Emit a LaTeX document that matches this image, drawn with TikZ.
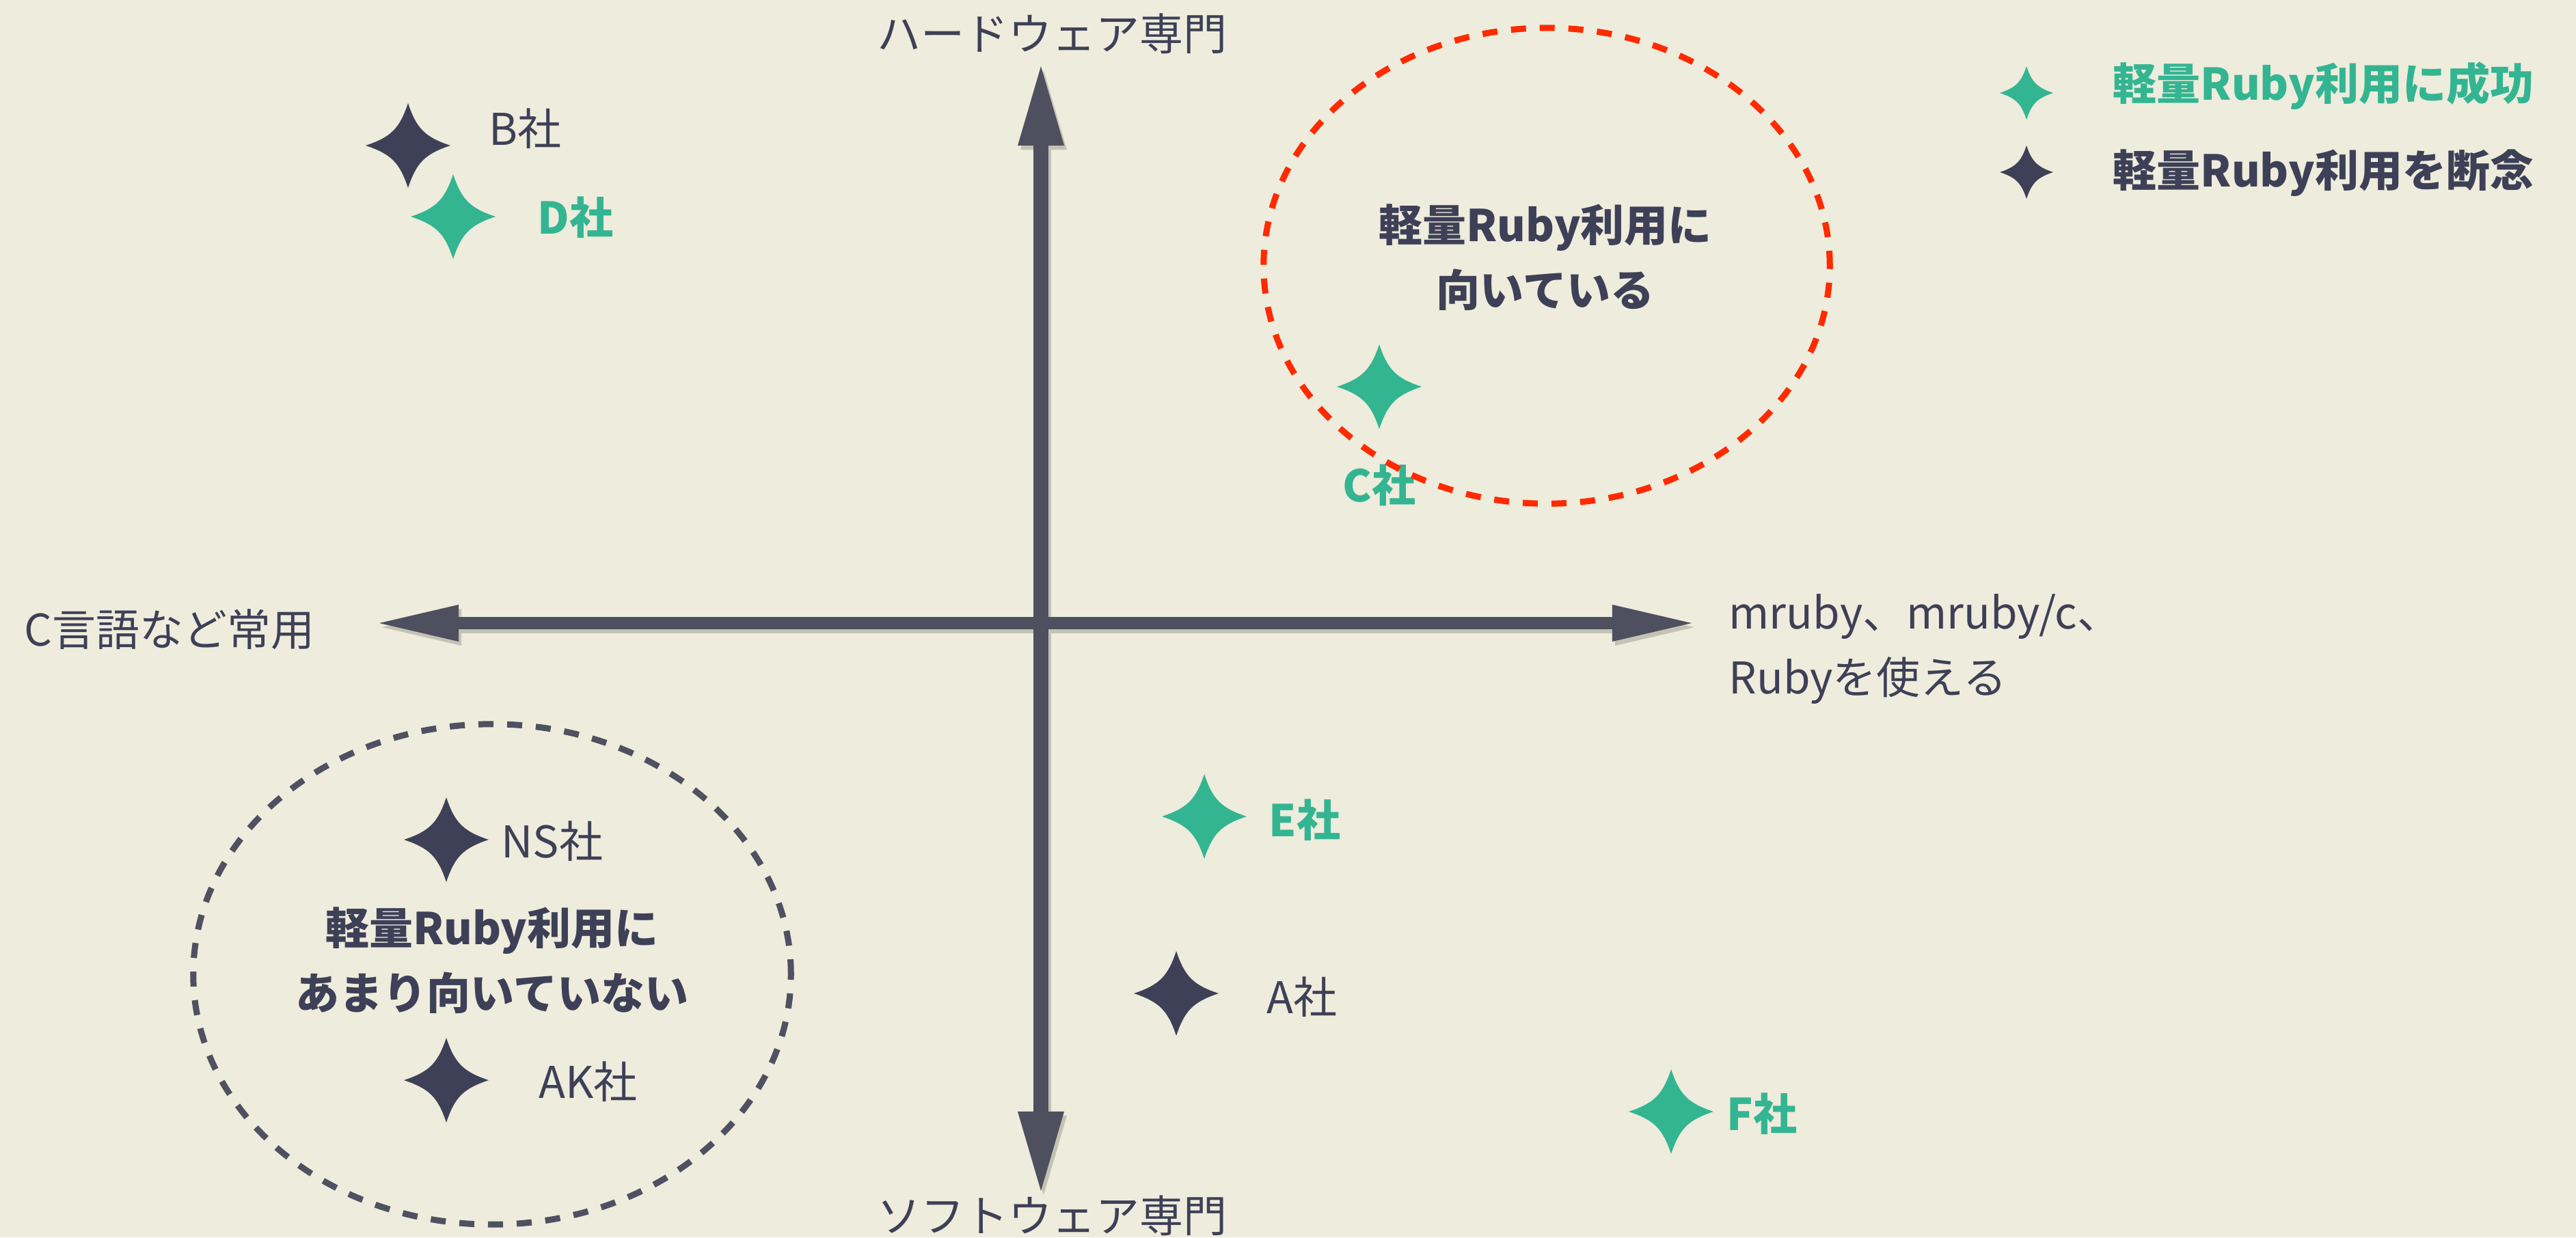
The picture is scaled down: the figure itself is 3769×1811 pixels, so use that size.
\documentclass[tikz,border=0pt]{standalone}
\usepackage{fontspec}
\setmainfont{Noto Sans CJK JP}
\usetikzlibrary{arrows.meta,shapes.geometric}
\definecolor{bg}{HTML}{EEECDC}
\definecolor{navy}{HTML}{3E4057}
\definecolor{sgreen}{HTML}{33B592}
\definecolor{axisgray}{HTML}{4E4F5F}
\definecolor{redd}{HTML}{FF2A00}
\definecolor{dashgray}{HTML}{4F5061}
\colorlet{shadowc}{bg!82!black}
\begin{document}
\begin{tikzpicture}[x=0.01cm,y=-0.01cm,
  lbl/.style={font=\fontsize{18.2pt}{27pt}\selectfont, text=navy, inner sep=0pt},
  blbl/.style={lbl, font=\fontsize{18.2pt}{27pt}\selectfont\bfseries},
  glbl/.style={blbl, text=sgreen},
  sparkle/.pic={\path[pic actions] (0,-62) .. controls (12.4,-24.8) and (24.8,-12.4) .. (62,0)
      .. controls (24.8,12.4) and (12.4,24.8) .. (0,62)
      .. controls (-12.4,24.8) and (-24.8,12.4) .. (-62,0)
      .. controls (-24.8,-12.4) and (-12.4,-24.8) .. cycle;},
  vaxis/.style={line width=0.22cm, >={Triangle[length=1.16cm,width=0.68cm,line width=0pt]}, <->},
  haxis/.style={line width=0.18cm, >={Triangle[length=1.16cm,width=0.54cm,line width=0pt]}, <->},
  zone/.style={ellipse, inner sep=0pt, line width=0.09cm, dash pattern=on 0.22cm off 0.2cm},
]
\fill[bg] (0,0) rectangle (3769,1811);
\useasboundingbox (0,0) rectangle (3769,1811);

% axis labels
\node[lbl] (hw) at (1539,49) {ハードウェア専門};
\node[lbl] (sw) at (1539,1779) {ソフトウェア専門};
\node[lbl, anchor=west] (clang) at (35,921) {C言語など常用};
\node[lbl, anchor=west, align=left] (mrb) at (2529,950) {mruby、mruby/c、\\Rubyを使える};

% axes
\coordinate (vtop) at (1523,97);
\coordinate (vbot) at (1523,1743);
\coordinate (hleft) at (555,912);
\coordinate (hright) at (2475,912);
\begin{scope}[transform canvas={shift={(0.04cm,-0.06cm)}}]
  \draw[vaxis, draw=shadowc] (vtop) -- (vbot);
  \draw[haxis, draw=shadowc] (hleft) -- (hright);
\end{scope}
\draw[vaxis, draw=axisgray] (vtop) -- (vbot);
\draw[haxis, draw=axisgray] (hleft) -- (hright);

% companies
\pic[fill=navy] (sB) at (597,213) {sparkle};
\node[lbl, anchor=west] (lB) at (715,188) {B社};
\pic[fill=sgreen] (sD) at (663,317) {sparkle};
\node[glbl, anchor=west] (lD) at (786,318) {D社};
\pic[fill=sgreen] (sC) at (2018,566) {sparkle};
\node[glbl] (lC) at (2018,710) {C社};
\pic[fill=sgreen] (sE) at (1762,1195) {sparkle};
\node[glbl, anchor=west] (lE) at (1856,1200) {E社};
\pic[fill=navy] (sA) at (1721,1454) {sparkle};
\node[lbl, anchor=west] (lA) at (1853,1459) {A社};
\pic[fill=sgreen] (sF) at (2445,1627) {sparkle};
\node[glbl, anchor=west] (lF) at (2526,1630) {F社};
\pic[fill=navy] (sNS) at (653,1229) {sparkle};
\node[lbl, anchor=west] (lNS) at (733,1231) {NS社};
\pic[fill=navy] (sAK) at (653,1581) {sparkle};
\node[lbl, anchor=west] (lAK) at (788,1583) {AK社};

% zones
\node[zone, draw=redd, minimum width=8.28cm, minimum height=6.96cm] (good) at (2263,389) {};
\node[blbl, align=center] (goodtxt) at (2261,377) {軽量Ruby利用に\\向いている};
\node[zone, draw=dashgray, minimum width=8.74cm, minimum height=7.32cm] (bad) at (720,1426) {};
\node[blbl, align=center] (badtxt) at (720,1406) {軽量Ruby利用に\\あまり向いていない};

% legend
\pic[fill=sgreen, scale=0.63] (lg1) at (2965,136) {sparkle};
\node[glbl, anchor=west] (leg1) at (3091,126) {軽量Ruby利用に成功};
\pic[fill=navy, scale=0.63] (lg2) at (2965,252) {sparkle};
\node[blbl, anchor=west] (leg2) at (3091,253) {軽量Ruby利用を断念};
\end{tikzpicture}
\end{document}
